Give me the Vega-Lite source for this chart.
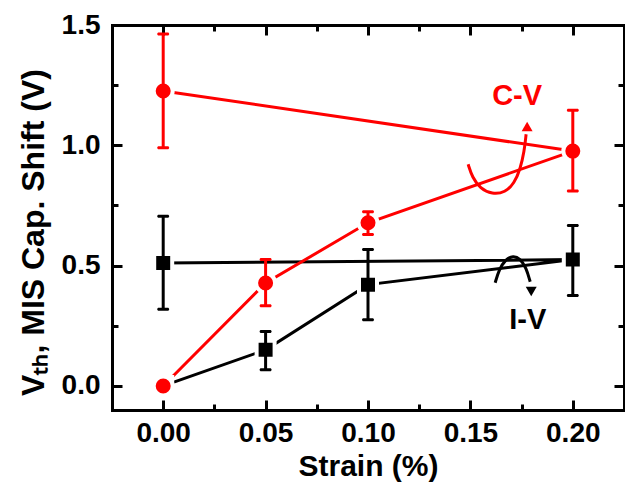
{
  "$schema": "https://vega.github.io/schema/vega-lite/v6.json",
  "width": 512,
  "height": 385,
  "autosize": "none",
  "padding": {"left": 112, "top": 25, "right": 1, "bottom": 75},
  "background": "white",
  "config": {
    "font": "Liberation Sans",
    "view": {"stroke": null},
    "axis": {
      "grid": false,
      "domainColor": "black",
      "domainWidth": 3,
      "domainCap": "square",
      "tickColor": "black",
      "tickWidth": 3,
      "labelFont": "Liberation Sans",
      "labelFontWeight": "bold",
      "labelFontSize": 28,
      "labelColor": "black",
      "titleFont": "Liberation Sans",
      "titleFontWeight": "bold",
      "titleFontSize": 30,
      "titleColor": "black"
    }
  },
  "datasets": {
    "pts": [
      {"s": "CV", "x": 0, "y": 0, "o": 1},
      {"s": "CV", "x": 0.05, "y": 0.428, "o": 2, "lo": 0.333, "hi": 0.525},
      {"s": "CV", "x": 0.1, "y": 0.678, "o": 3, "lo": 0.629, "hi": 0.724},
      {"s": "CV", "x": 0.2, "y": 0.976, "o": 4, "lo": 0.81, "hi": 1.146},
      {"s": "CV", "x": 0, "y": 1.226, "o": 5, "lo": 0.99, "hi": 1.4625},
      {"s": "IV", "x": 0, "y": 0, "o": 1},
      {"s": "IV", "x": 0.05, "y": 0.15, "o": 2, "lo": 0.067, "hi": 0.226},
      {"s": "IV", "x": 0.1, "y": 0.421, "o": 3, "lo": 0.275, "hi": 0.567},
      {"s": "IV", "x": 0.2, "y": 0.525, "o": 4, "lo": 0.376, "hi": 0.667},
      {"s": "IV", "x": 0, "y": 0.511, "o": 5, "lo": 0.319, "hi": 0.705}
    ],
    "arrows": [
      {"s": "CV", "o": 1, "x": 0.1489, "y": 0.921},
      {"s": "CV", "o": 2, "x": 0.1509, "y": 0.867},
      {"s": "CV", "o": 3, "x": 0.1548, "y": 0.821},
      {"s": "CV", "o": 4, "x": 0.1606, "y": 0.796},
      {"s": "CV", "o": 5, "x": 0.1670, "y": 0.804},
      {"s": "CV", "o": 6, "x": 0.1714, "y": 0.842},
      {"s": "CV", "o": 7, "x": 0.1743, "y": 0.900},
      {"s": "CV", "o": 8, "x": 0.1763, "y": 0.975},
      {"s": "CV", "o": 9, "x": 0.1772, "y": 1.046},
      {"s": "IV", "o": 1, "x": 0.1621, "y": 0.429},
      {"s": "IV", "o": 2, "x": 0.1640, "y": 0.483},
      {"s": "IV", "o": 3, "x": 0.1670, "y": 0.525},
      {"s": "IV", "o": 4, "x": 0.1709, "y": 0.542},
      {"s": "IV", "o": 5, "x": 0.1743, "y": 0.529},
      {"s": "IV", "o": 6, "x": 0.1772, "y": 0.492},
      {"s": "IV", "o": 7, "x": 0.1792, "y": 0.433}
    ],
    "heads": [
      {"s": "CV", "x": 0.1777, "y": 1.078, "shape": "triangle-up"},
      {"s": "IV", "x": 0.1797, "y": 0.392, "shape": "triangle-down"}
    ],
    "labels": [
      {"s": "CV", "x": 0.1728, "y": 1.204, "t": "C-V"},
      {"s": "IV", "x": 0.178, "y": 0.275, "t": "I-V"}
    ]
  },
  "layer": [
    {
      "data": {"name": "pts"},
      "transform": [{"filter": "datum.s == 'IV'"}],
      "mark": {"type": "line", "color": "black", "strokeWidth": 3},
      "encoding": {
        "x": {"field": "x", "type": "quantitative", "scale": {"domain": [-0.025, 0.225], "nice": false, "zero": false},
          "axis": {"orient": "bottom", "title": "Strain (%)", "values": [0, 0.025, 0.05, 0.075, 0.1, 0.125, 0.15, 0.175, 0.2], "format": ".2f",
            "labelExpr": "abs(datum.value*20 - round(datum.value*20)) < 0.001 ? datum.label : ''",
            "tickSize": {"condition": {"test": "abs(datum.value*20 - round(datum.value*20)) < 0.001", "value": -10}, "value": -6},
            "labelPadding": 19, "titleX": 256, "titleY": 65, "titleBaseline": "alphabetic"}},
        "y": {"field": "y", "type": "quantitative", "scale": {"domain": [-0.1, 1.5], "nice": false, "zero": false},
          "axis": {"orient": "left", "title": "Vₜₕ, MIS Cap. Shift (V)", "values": [0, 0.25, 0.5, 0.75, 1, 1.25, 1.5], "format": ".1f",
            "labelExpr": "abs(datum.value*2 - round(datum.value*2)) < 0.001 ? datum.label : ''",
            "tickSize": {"condition": {"test": "abs(datum.value*2 - round(datum.value*2)) < 0.001", "value": -10}, "value": -6},
            "labelPadding": 22, "titleX": -69, "titleY": 207, "titleAngle": -90, "titleBaseline": "alphabetic", "titleFontSize": 32}},
        "order": {"field": "o", "type": "quantitative"}
      }
    },
    {
      "data": {"name": "pts"},
      "transform": [{"filter": "datum.s == 'CV'"}],
      "mark": {"type": "line", "color": "#ff0000", "strokeWidth": 3},
      "encoding": {
        "x": {"field": "x", "type": "quantitative", "scale": {"domain": [-0.025, 0.225], "nice": false, "zero": false},
          "axis": {"orient": "top", "title": null, "labels": false, "values": [0, 0.025, 0.05, 0.075, 0.1, 0.125, 0.15, 0.175, 0.2],
            "tickSize": {"condition": {"test": "abs(datum.value*20 - round(datum.value*20)) < 0.001", "value": -10}, "value": -6}}},
        "y": {"field": "y", "type": "quantitative", "scale": {"domain": [-0.1, 1.5], "nice": false, "zero": false},
          "axis": {"orient": "right", "title": null, "labels": false, "values": [0, 0.25, 0.5, 0.75, 1, 1.25, 1.5],
            "tickSize": {"condition": {"test": "abs(datum.value*2 - round(datum.value*2)) < 0.001", "value": -10}, "value": -6}}},
        "order": {"field": "o", "type": "quantitative"}
      }
    },
    {
      "data": {"name": "pts"},
      "transform": [{"filter": "datum.s == 'IV'"}],
      "mark": {"type": "point", "shape": "square", "filled": true, "size": 324, "fill": "black", "stroke": "white", "strokeWidth": 4, "opacity": 1},
      "encoding": {
        "x": {"field": "x", "type": "quantitative", "scale": {"domain": [-0.025, 0.225], "nice": false, "zero": false}, "axis": null},
        "y": {"field": "y", "type": "quantitative", "scale": {"domain": [-0.1, 1.5], "nice": false, "zero": false}, "axis": null}
      }
    },
    {
      "data": {"name": "pts"},
      "transform": [{"filter": "datum.s == 'CV'"}],
      "mark": {"type": "point", "shape": "circle", "filled": true, "size": 361, "fill": "#ff0000", "stroke": "white", "strokeWidth": 4, "opacity": 1},
      "encoding": {
        "x": {"field": "x", "type": "quantitative", "scale": {"domain": [-0.025, 0.225], "nice": false, "zero": false}, "axis": null},
        "y": {"field": "y", "type": "quantitative", "scale": {"domain": [-0.1, 1.5], "nice": false, "zero": false}, "axis": null}
      }
    },
    {
      "data": {"name": "pts"},
      "transform": [{"filter": "datum.lo != null"}],
      "mark": {"type": "rule", "strokeWidth": 3},
      "encoding": {
        "x": {"field": "x", "type": "quantitative", "scale": {"domain": [-0.025, 0.225], "nice": false, "zero": false}, "axis": null},
        "y": {"field": "lo", "type": "quantitative", "scale": {"domain": [-0.1, 1.5], "nice": false, "zero": false}, "axis": null},
        "y2": {"field": "hi"},
        "color": {"field": "s", "type": "nominal", "scale": {"domain": ["CV", "IV"], "range": ["#ff0000", "black"]}, "legend": null}
      }
    },
    {
      "data": {"name": "pts"},
      "transform": [{"filter": "datum.lo != null"}],
      "mark": {"type": "tick", "orient": "horizontal", "size": 12, "thickness": 3, "cornerRadius": 1.5, "opacity": 1},
      "encoding": {
        "x": {"field": "x", "type": "quantitative", "scale": {"domain": [-0.025, 0.225], "nice": false, "zero": false}, "axis": null},
        "y": {"field": "lo", "type": "quantitative", "scale": {"domain": [-0.1, 1.5], "nice": false, "zero": false}, "axis": null},
        "color": {"field": "s", "type": "nominal", "scale": {"domain": ["CV", "IV"], "range": ["#ff0000", "black"]}, "legend": null}
      }
    },
    {
      "data": {"name": "pts"},
      "transform": [{"filter": "datum.lo != null"}],
      "mark": {"type": "tick", "orient": "horizontal", "size": 12, "thickness": 3, "cornerRadius": 1.5, "opacity": 1},
      "encoding": {
        "x": {"field": "x", "type": "quantitative", "scale": {"domain": [-0.025, 0.225], "nice": false, "zero": false}, "axis": null},
        "y": {"field": "hi", "type": "quantitative", "scale": {"domain": [-0.1, 1.5], "nice": false, "zero": false}, "axis": null},
        "color": {"field": "s", "type": "nominal", "scale": {"domain": ["CV", "IV"], "range": ["#ff0000", "black"]}, "legend": null}
      }
    },
    {
      "data": {"name": "arrows"},
      "mark": {"type": "line", "strokeWidth": 3, "interpolate": "basis"},
      "encoding": {
        "x": {"field": "x", "type": "quantitative", "scale": {"domain": [-0.025, 0.225], "nice": false, "zero": false}, "axis": null},
        "y": {"field": "y", "type": "quantitative", "scale": {"domain": [-0.1, 1.5], "nice": false, "zero": false}, "axis": null},
        "order": {"field": "o", "type": "quantitative"},
        "detail": {"field": "s"},
        "color": {"field": "s", "type": "nominal", "scale": {"domain": ["CV", "IV"], "range": ["#ff0000", "black"]}, "legend": null}
      }
    },
    {
      "data": {"name": "heads"},
      "mark": {"type": "point", "filled": true, "size": 120, "opacity": 1},
      "encoding": {
        "x": {"field": "x", "type": "quantitative", "scale": {"domain": [-0.025, 0.225], "nice": false, "zero": false}, "axis": null},
        "y": {"field": "y", "type": "quantitative", "scale": {"domain": [-0.1, 1.5], "nice": false, "zero": false}, "axis": null},
        "shape": {"field": "shape", "type": "nominal", "scale": null},
        "color": {"field": "s", "type": "nominal", "scale": {"domain": ["CV", "IV"], "range": ["#ff0000", "black"]}, "legend": null}
      }
    },
    {
      "data": {"name": "labels"},
      "mark": {"type": "text", "fontSize": 29, "fontWeight": "bold", "font": "Liberation Sans", "baseline": "middle", "align": "center"},
      "encoding": {
        "x": {"field": "x", "type": "quantitative", "scale": {"domain": [-0.025, 0.225], "nice": false, "zero": false}, "axis": null},
        "y": {"field": "y", "type": "quantitative", "scale": {"domain": [-0.1, 1.5], "nice": false, "zero": false}, "axis": null},
        "text": {"field": "t"},
        "color": {"field": "s", "type": "nominal", "scale": {"domain": ["CV", "IV"], "range": ["#ff0000", "black"]}, "legend": null}
      }
    }
  ],
  "resolve": {"axis": {"x": "independent", "y": "independent"}}
}
